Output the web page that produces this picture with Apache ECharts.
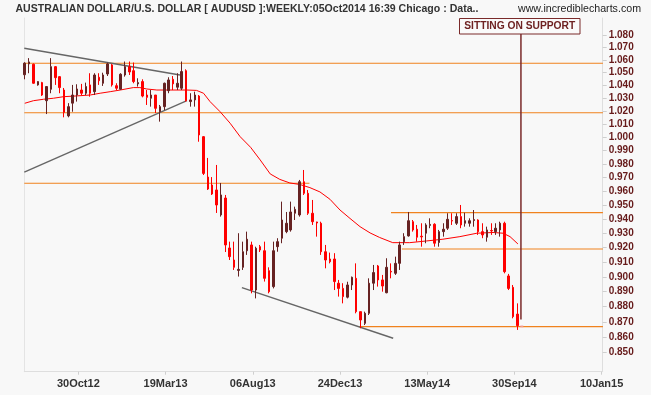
<!DOCTYPE html>
<html><head><meta charset="utf-8">
<script src="https://cdn.jsdelivr.net/npm/echarts@6/dist/echarts.min.js"></script>
<style>html,body{margin:0;padding:0;background:#f8f8f8}#c{width:651px;height:395px}</style>
</head><body><div id="c"></div>
<script>
// weekly candles, index 0 = first week shown
const opens = [1.0481,1.0567,1.0564,1.0401,1.0419,1.0278,1.0367,1.0545,1.0466,1.0361,
1.0161,1.0259,1.0322,1.0361,1.0336,1.0401,1.0348,1.0461,1.0414,1.0487,
1.0559,1.0395,1.0367,1.0479,1.0545,1.0513,1.0409,1.0427,1.0322,1.0297,
1.0322,1.0193,1.0232,1.0356,1.0445,1.0383,1.0375,1.0513,1.0271,1.0284,
1.0314,1.0003,0.9703,0.9645,0.9609,0.9430,0.9551,0.9198,0.9115,0.9044,
0.9065,0.9179,0.9219,0.8911,0.9207,0.9179,0.9042,0.8934,0.9207,0.9266,
0.9312,0.9324,0.9442,0.9430,0.9669,0.9585,0.9442,0.9380,0.9371,0.9172,
0.9122,0.9122,0.8957,0.8922,0.8863,0.8945,0.8990,0.8767,0.8690,0.8756,
0.8957,0.9074,0.8979,0.8893,0.9037,0.9024,0.9092,0.9242,0.9282,0.9382,
0.9329,0.9280,0.9301,0.9356,0.9364,0.9236,0.9312,0.9336,0.9390,0.9371,
0.9418,0.9371,0.9371,0.9390,0.9394,0.9312,0.9273,0.9320,0.9312,0.9324,
0.9371,0.9006,0.8929,0.8751];
const closes = [1.0573,1.0583,1.0414,1.0427,1.0322,1.0388,1.0545,1.0458,1.0380,1.0188,
1.0232,1.0322,1.0369,1.0336,1.0388,1.0336,1.0479,1.0434,1.0479,1.0567,
1.0401,1.0375,1.0485,1.0545,1.0503,1.0427,1.0419,1.0314,1.0304,1.0322,
1.0219,1.0232,1.0414,1.0440,1.0409,1.0414,1.0506,1.0278,1.0284,1.0322,
1.0016,0.9730,0.9616,0.9580,0.9501,0.9573,0.9219,0.9138,0.9065,0.9051,
0.9172,0.9259,0.8911,0.9196,0.9184,0.8990,0.8900,0.9179,0.9242,0.9394,
0.9371,0.9451,0.9470,0.9669,0.9585,0.9442,0.9382,0.9373,0.9172,0.9115,
0.9103,0.8968,0.8922,0.8867,0.8945,0.8997,0.8767,0.8712,0.8756,0.8957,
0.9029,0.8979,0.8938,0.9065,0.9033,0.9092,0.9219,0.9277,0.9389,0.9324,
0.9273,0.9275,0.9359,0.9363,0.9231,0.9312,0.9329,0.9399,0.9387,0.9418,
0.9359,0.9389,0.9389,0.9397,0.9312,0.9289,0.9324,0.9317,0.9336,0.9371,
0.9035,0.8922,0.8734,0.8675];
const lows = [1.0445,1.0493,1.0410,1.0395,1.0315,1.0175,1.0336,1.0401,1.0336,1.0150,
1.0150,1.0193,1.0271,1.0322,1.0322,1.0309,1.0322,1.0401,1.0393,1.0471,
1.0388,1.0361,1.0361,1.0466,1.0479,1.0414,1.0388,1.0304,1.0245,1.0232,
1.0183,1.0117,1.0206,1.0336,1.0361,1.0361,1.0361,1.0271,1.0232,1.0232,
0.9965,0.9718,0.9609,0.9573,0.9444,0.9418,0.9170,0.9115,0.9047,0.9002,
0.9047,0.9150,0.8889,0.8855,0.9170,0.8968,0.8889,0.8922,0.9172,0.9231,
0.9301,0.9312,0.9394,0.9418,0.9573,0.9430,0.9359,0.9277,0.9150,0.9058,
0.9092,0.8911,0.8867,0.8822,0.8855,0.8911,0.8756,0.8658,0.8679,0.8745,
0.8911,0.8934,0.8900,0.8889,0.8990,0.9013,0.9047,0.9219,0.9277,0.9312,
0.9242,0.9207,0.9231,0.9336,0.9207,0.9207,0.9277,0.9324,0.9359,0.9359,
0.9336,0.9347,0.9347,0.9347,0.9289,0.9266,0.9242,0.9289,0.9289,0.9277,
0.9024,0.8911,0.8723,0.8647];
const highs = [1.0580,1.0613,1.0570,1.0430,1.0425,1.0390,1.0613,1.0550,1.0470,1.0377,
1.0259,1.0401,1.0406,1.0409,1.0419,1.0493,1.0493,1.0493,1.0497,1.0577,
1.0567,1.0414,1.0493,1.0586,1.0586,1.0578,1.0453,1.0445,1.0361,1.0361,
1.0322,1.0245,1.0419,1.0461,1.0471,1.0493,1.0586,1.0524,1.0336,1.0348,
1.0322,1.0008,0.9844,0.9703,0.9792,0.9660,0.9573,0.9242,0.9242,0.9301,
0.9242,0.9312,0.9242,0.9207,0.9219,0.9242,0.9065,0.9242,0.9266,0.9525,
0.9451,0.9525,0.9489,0.9682,0.9755,0.9609,0.9537,0.9382,0.9382,0.9219,
0.9166,0.9162,0.8979,0.8957,0.8967,0.9002,0.9092,0.8767,0.8767,0.8990,
0.9081,0.9081,0.9013,0.9127,0.9092,0.9138,0.9242,0.9301,0.9451,0.9394,
0.9359,0.9371,0.9371,0.9406,0.9371,0.9324,0.9371,0.9442,0.9442,0.9442,
0.9501,0.9446,0.9406,0.9465,0.9399,0.9371,0.9347,0.9371,0.9371,0.9382,
0.9382,0.9020,0.8945,0.8822];
// last quote marker
const lastQuoteIdx = 114;
const lastQuote = 0.8670;

// moving average, read at these week positions
const maIdx = [0,2,4.3,6.6,8.9,11.9,15,17.3,19.6,21.9,24.9,26.4,28,30.3,33.3,37.2,39.4,41,42.5,44.8,
47.1,49.4,51.8,54,56.3,58.5,60.8,63.1,65.4,67.7,70,72.3,74.6,76.9,79.2,81.4,84.4,88.3,92.2,95.9,
99.8,103.7,107.4,109.7,111.3,113.1];
const maVal = [1.0258,1.0278,1.0289,1.0297,1.0309,1.0315,1.0322,1.0336,1.0348,1.0361,1.0380,1.0380,1.0369,1.0361,1.0361,1.0361,1.0358,1.0336,1.0271,1.0193,
1.0105,1.0003,0.9923,0.9829,0.9726,0.9686,0.9660,0.9649,0.9626,0.9595,0.9542,0.9465,0.9405,0.9347,0.9303,0.9271,0.9235,0.9235,0.9247,0.9259,
0.9277,0.9301,0.9306,0.9301,0.9277,0.9226];

// axis ticks
const yTicks = [0.850,0.860,0.870,0.880,0.890,0.900,0.910,0.920,0.930,0.940,0.950,0.960,0.970,0.980,0.990,1.000,1.010,1.020,1.030,1.040,1.050,1.060,1.070,1.080];
const xTickPos = [12.3,32.3,52.3,72.3,92.3,112.3,132.3];
const xTickLabels = ['30Oct12','19Mar13','06Aug13','24Dec13','13May14','30Sep14','10Jan15'];

// drawn support / resistance levels
const supportLevels = [1.0572,1.0185,0.9658,0.9446,0.9191,0.8668];
const supportFrom = [-0.1,-0.1,-0.1,84.0,86.5,76.7];
const supportTo = [132.6,132.6,65.3,132.6,132.6,132.6];
// trend lines [x1,v1,x2,v2]
const trendLines = [[-0.1,1.0692,35.6,1.0479],[-0.1,0.9740,37.2,1.0278],[49.8,0.8927,84.5,0.8593]];
const markerX = 113.8, markerFrom = 0.8715;
const titleText = 'AUSTRALIAN DOLLAR/U.S. DOLLAR [ AUDUSD ]:WEEKLY:05Oct2014 16:39 Chicago : Data..';
const siteText = 'www.incrediblecharts.com';
const noteText = 'SITTING ON SUPPORT';

const X_MIN = -0.1, X_MAX = 132.55, Y_MIN = 0.8379, Y_MAX = 1.0939;
const L = Math.log;
const FF = "'Liberation Sans',Arial,sans-serif";
const RED = '#ff0000', MAROON = '#662222', ORANGE = '#f0821e';

const mctx = document.createElement('canvas').getContext('2d');
function fit(text, font, w){ mctx.font = font; return w / mctx.measureText(text).width; }

const candleData = opens.map((o,i)=>[i, L(o), L(closes[i]), L(lows[i]), L(highs[i])]);
const series = [];
supportLevels.forEach((v,i)=>series.push({type:'line',data:[[supportFrom[i],L(v)],[supportTo[i],L(v)]],symbol:'none',
  lineStyle:{color:ORANGE,width:1.2},silent:true,z:1,animation:false}));
trendLines.forEach(t=>series.push({type:'line',data:[[t[0],L(t[1])],[t[2],L(t[3])]],symbol:'none',
  lineStyle:{color:'#666',width:1.4},silent:true,z:1,animation:false}));
series.push({type:'line',data:[[markerX,L(markerFrom)],[markerX,L(Y_MAX)]],symbol:'none',
  lineStyle:{color:'#7a2a2a',width:1.5},z:2,animation:false});
series.push({type:'line',data:maIdx.map((x,i)=>[x,L(maVal[i])]),symbol:'none',smooth:false,
  lineStyle:{color:'#ff0000',width:1},z:3,animation:false});
series.push({type:'candlestick',data:candleData,encode:{x:0,y:[1,2,3,4]},barWidth:2,clip:false,
  itemStyle:{color:MAROON,color0:RED,borderColor:MAROON,borderColor0:RED,borderWidth:1},z:4,animation:false});
series.push({type:'scatter',data:[[lastQuoteIdx,L(lastQuote)]],symbol:'rect',symbolSize:[3,2],
  itemStyle:{color:'#f4a0a0'},z:5,animation:false});

const titleFont = "bold 11px 'Liberation Sans'";
const siteFont = "11px 'Liberation Sans'";
const noteFont = "bold 11px 'Liberation Sans'";

const chart = echarts.init(document.getElementById('c'),null,{renderer:'canvas'});
chart.setOption({
  backgroundColor:'#f8f8f8',
  animation:false,
  grid:{left:24.3,right:48.3,top:18,bottom:23.3,containLabel:false},
  xAxis:{type:'value',min:X_MIN,max:X_MAX,
    axisLine:{show:true,onZero:false,lineStyle:{color:'#dedede'}},
    axisTick:{show:true,customValues:xTickPos,length:3,lineStyle:{color:'#cfcfcf'}},
    axisLabel:{customValues:xTickPos,margin:7,color:'#333',fontFamily:FF,fontSize:11,fontWeight:'bold',
      formatter:v=>{let b=0;xTickPos.forEach((p,i)=>{if(Math.abs(p-v)<Math.abs(xTickPos[b]-v))b=i;});return xTickLabels[b];}},
    splitLine:{show:false}},
  yAxis:[{type:'value',position:'right',min:L(Y_MIN),max:L(Y_MAX),
    axisLine:{show:true,onZero:false,lineStyle:{color:'#dedede'}},
    axisTick:{show:true,customValues:yTicks.map(L),length:4,lineStyle:{color:'#cfcfcf'}},
    axisLabel:{customValues:yTicks.map(L),margin:6,color:'#661a1a',fontFamily:FF,fontSize:10,fontWeight:'bold',
      formatter:v=>Math.exp(v).toFixed(3)},
    splitLine:{show:false}},
   {type:'value',position:'left',min:L(Y_MIN),max:L(Y_MAX),
    axisLine:{show:true,onZero:false,lineStyle:{color:'#e4e4e4'}},axisTick:{show:false},axisLabel:{show:false},splitLine:{show:false}}],
  graphic:[
    {type:'text',x:15.4,y:8.5,scaleX:fit(titleText,titleFont,463),z:100,
      style:{text:titleText,font:titleFont,fill:'#333',align:'left',verticalAlign:'middle'}},
    {type:'text',x:518,y:8.5,scaleX:fit(siteText,siteFont,123),z:100,
      style:{text:siteText,font:siteFont,fill:'#222',align:'left',verticalAlign:'middle'}},
    {type:'rect',x:459.5,y:18.5,shape:{x:0,y:0,width:120.5,height:15.5},z:100,
      style:{fill:'#fafafa',stroke:'#7a2a2a',lineWidth:1}},
    {type:'text',x:519.75,y:26.3,scaleX:fit(noteText,noteFont,111),z:101,
      style:{text:noteText,font:noteFont,fill:'#6e2222',align:'center',verticalAlign:'middle'}}
  ],
  series:series
});
</script></body></html>
